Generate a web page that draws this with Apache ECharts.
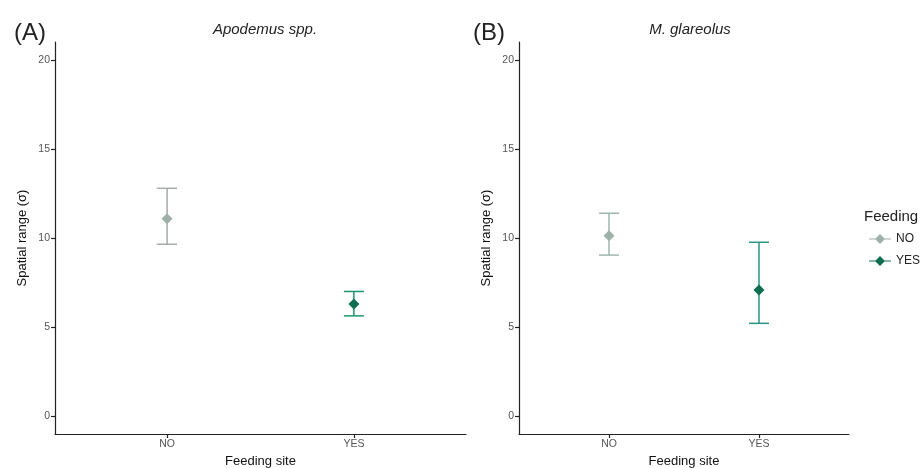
<!DOCTYPE html>
<html>
<head>
<meta charset="utf-8">
<script src="https://cdn.jsdelivr.net/npm/echarts@6/dist/echarts.min.js"></script>
<style>html,body{margin:0;padding:0;background:#fff;}#c{width:923px;height:468px;}</style>
</head>
<body>
<div id="c"></div>
<script>
const categories = ['NO', 'YES'];
const yTicks = [0, 5, 10, 15, 20];
const apodemusMean = [11.08, 6.29];
const apodemusLower = [9.65, 5.63];
const apodemusUpper = [12.79, 7.00];
const glareolusMean = [10.13, 7.08];
const glareolusLower = [9.04, 5.21];
const glareolusUpper = [11.39, 9.76];

const FONT = 'Liberation Sans, Arial, sans-serif';
const pointColors = ['#9fb0a8', '#0d6e50'];
const barColors = [['#a5aba8', '#1b9670'], ['#9fb8ad', '#2a9585']];

const panels = [
  { mean: apodemusMean, lower: apodemusLower, upper: apodemusUpper },
  { mean: glareolusMean, lower: glareolusLower, upper: glareolusUpper }
];

function errorBar(params, api) {
  const x = api.value(0);
  const lo = api.coord([x, api.value(1)]);
  const hi = api.coord([x, api.value(2)]);
  const hw = 10;
  const style = { stroke: api.visual('color'), lineWidth: 1.5, fill: null };
  return {
    type: 'group',
    children: [
      { type: 'line', shape: { x1: lo[0], y1: lo[1], x2: hi[0], y2: hi[1] }, style },
      { type: 'line', shape: { x1: lo[0] - hw, y1: lo[1], x2: lo[0] + hw, y2: lo[1] }, style },
      { type: 'line', shape: { x1: hi[0] - hw, y1: hi[1], x2: hi[0] + hw, y2: hi[1] }, style }
    ]
  };
}

const series = [];
panels.forEach((p, pi) => {
  categories.forEach((cat, gi) => {
    series.push({
      type: 'custom',
      xAxisIndex: pi, yAxisIndex: pi,
      renderItem: errorBar,
      itemStyle: { color: barColors[pi][gi] },
      data: [[gi + 1, p.lower[gi], p.upper[gi]]],
      z: 2, silent: true
    });
    series.push({
      type: 'scatter',
      name: cat,
      xAxisIndex: pi, yAxisIndex: pi,
      symbol: 'diamond',
      symbolSize: 11,
      itemStyle: { color: pointColors[gi], opacity: 1 },
      data: [[gi + 1, p.mean[gi]]],
      z: 3
    });
  });
});

const axisLineStyle = { color: '#222', width: 1.2 };
function xAxis(gi) {
  return {
    type: 'value', gridIndex: gi, min: 0.4, max: 2.6,
    name: 'Feeding site', nameLocation: 'middle', nameGap: 21,
    nameTextStyle: { fontFamily: FONT, fontSize: 13, color: '#111' },
    axisLine: { show: true, onZero: false, lineStyle: axisLineStyle },
    axisTick: { show: true, length: 4, lineStyle: axisLineStyle, customValues: [1, 2] },
    axisLabel: { customValues: [1, 2], formatter: v => categories[Math.round(v) - 1] || '',
      fontFamily: FONT, fontSize: 10.5, color: '#555', margin: 5 },
    splitLine: { show: false }
  };
}
function yAxis(gi) {
  return {
    type: 'value', gridIndex: gi, min: -1, max: 21,
    name: 'Spatial range (σ)', nameLocation: 'middle', nameGap: 26,
    nameTextStyle: { fontFamily: FONT, fontSize: 13, color: '#111' },
    axisLine: { show: true, onZero: false, lineStyle: axisLineStyle },
    axisTick: { show: true, length: 4, lineStyle: axisLineStyle, customValues: yTicks },
    axisLabel: { customValues: yTicks, fontFamily: FONT, fontSize: 10.5, color: '#555', margin: 5 },
    splitLine: { show: false }
  };
}

const legendIcon = 'path://M0,4.4 L22,4.4 L22,5.6 L0,5.6 Z M11,0 L16,5 L11,10 L6,5 Z';

const option = {
  backgroundColor: '#fff',
  animation: false,
  title: [
    { text: '(A)', left: 9, top: 16, textStyle: { fontFamily: FONT, fontSize: 24, fontWeight: 'normal', color: '#222' } },
    { text: 'Apodemus spp.', left: 260, textAlign: 'center', top: 17, textStyle: { fontFamily: FONT, fontSize: 15, fontStyle: 'italic', fontWeight: 'normal', color: '#222' } },
    { text: '(B)', left: 468, top: 16, textStyle: { fontFamily: FONT, fontSize: 24, fontWeight: 'normal', color: '#222' } },
    { text: 'M. glareolus', left: 685, textAlign: 'center', top: 17, textStyle: { fontFamily: FONT, fontSize: 15, fontStyle: 'italic', fontWeight: 'normal', color: '#222' } },
    { text: 'Feeding', left: 859, top: 204, textStyle: { fontFamily: FONT, fontSize: 15, fontWeight: 'normal', color: '#222' } }
  ],
  legend: {
    orient: 'vertical', left: 869, top: 233, padding: 0,
    itemWidth: 22, itemHeight: 10, itemGap: 10,
    data: categories.map(c => ({ name: c, icon: legendIcon })),
    textStyle: { fontFamily: FONT, fontSize: 12, color: '#222' },
    selectedMode: false
  },
  grid: [
    { left: 55, top: 42, width: 411, height: 392, containLabel: false, outerBoundsMode: 'none' },
    { left: 519, top: 42, width: 330, height: 392, containLabel: false, outerBoundsMode: 'none' }
  ],
  xAxis: [xAxis(0), xAxis(1)],
  yAxis: [yAxis(0), yAxis(1)],
  series
};

const chart = echarts.init(document.getElementById('c'), null, { renderer: 'canvas' });
chart.setOption(option);
</script>
</body>
</html>
